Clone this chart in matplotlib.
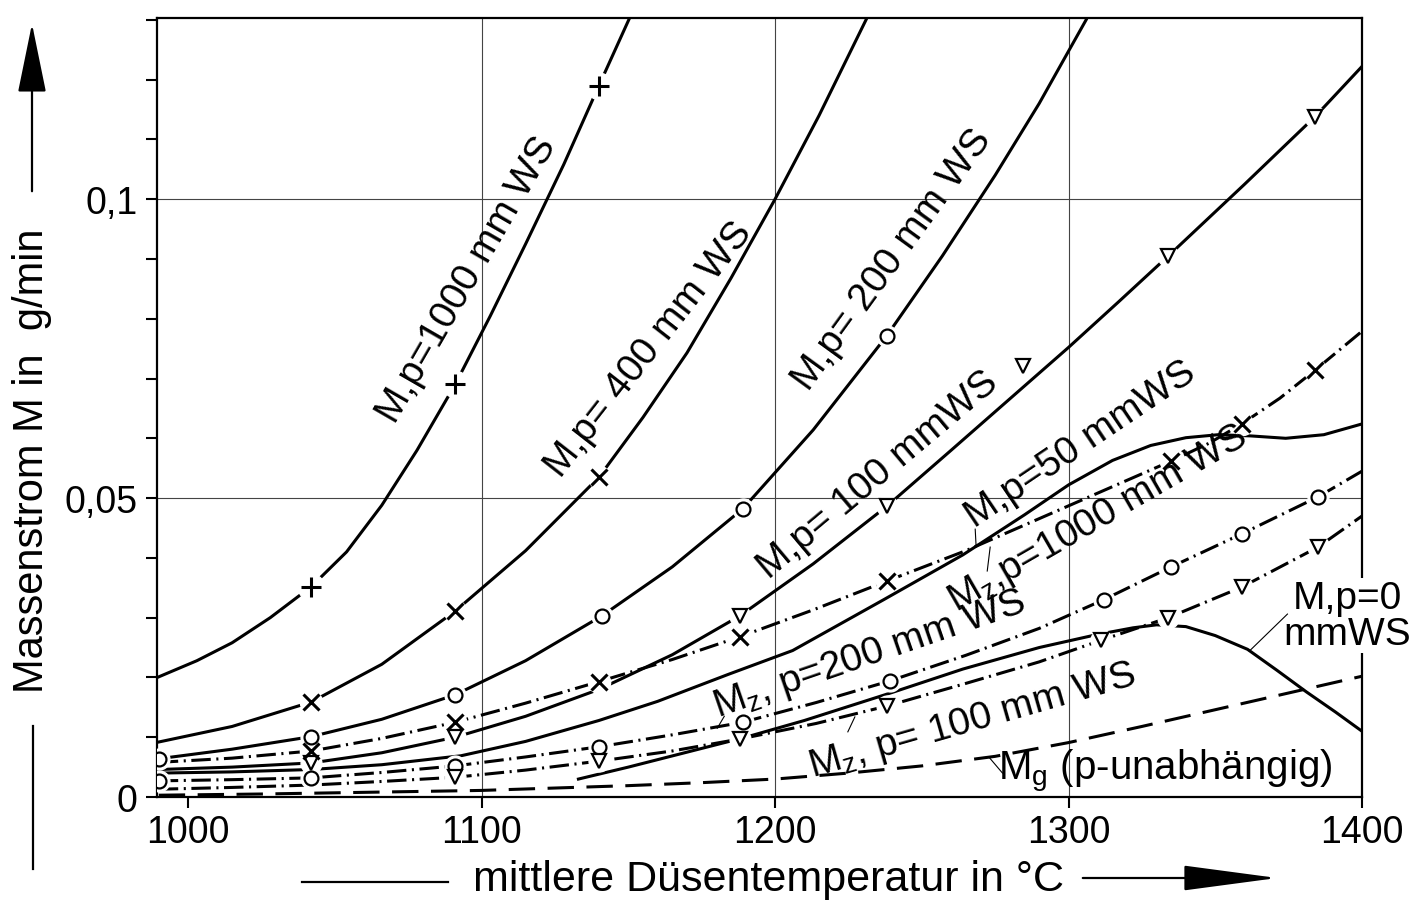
import matplotlib
matplotlib.use("Agg")
import matplotlib.pyplot as plt
from matplotlib.lines import Line2D
from matplotlib.patches import FancyArrowPatch
from matplotlib.ticker import FixedLocator, MultipleLocator

plt.rcParams["font.family"] = ["Liberation Sans", "DejaVu Sans"]
plt.rcParams["mathtext.fontset"] = "custom"
plt.rcParams["mathtext.rm"] = "Liberation Sans"
plt.rcParams["lines.scale_dashes"] = False

# temperature (degC) / mass flow (g/min)
T_M1000 = [990, 1003, 1015, 1028, 1042, 1054, 1066, 1078, 1091, 1103, 1115, 1128, 1140, 1152]
M_M1000 = [0.0201, 0.0228, 0.0258, 0.0300, 0.0352, 0.0410, 0.0488, 0.0580, 0.0690, 0.0805,
           0.0925, 0.1058, 0.1190, 0.1320]
MK_M1000 = [1042, 1091, 1140]

T_M400 = [990, 1015, 1042, 1066, 1091, 1115, 1140, 1155, 1170, 1185, 1200, 1215, 1232]
M_M400 = [0.0092, 0.0118, 0.0159, 0.0222, 0.0311, 0.0412, 0.0535, 0.0635, 0.0743, 0.0868,
          0.1000, 0.1140, 0.1310]
MK_M400 = [1042, 1091, 1140]

T_M200 = [990, 1015, 1042, 1066, 1091, 1115, 1141, 1165, 1189, 1213, 1238, 1257, 1275, 1290,
          1306]
M_M200 = [0.0064, 0.0080, 0.0101, 0.0130, 0.0171, 0.0228, 0.0303, 0.0385, 0.0482, 0.0614,
          0.0771, 0.0905, 0.1040, 0.1160, 0.1300]
MK_M200 = [990, 1042, 1091, 1141, 1189, 1238]

T_M100 = [990, 1015, 1042, 1066, 1091, 1115, 1140, 1165, 1188, 1213, 1238, 1260, 1280, 1300,
          1317, 1334, 1360, 1384, 1400]
M_M100 = [0.0046, 0.0050, 0.0057, 0.0074, 0.0100, 0.0135, 0.0180, 0.0238, 0.0303, 0.0390,
          0.0486, 0.0580, 0.0666, 0.0752, 0.0828, 0.0905, 0.1025, 0.1138, 0.1222]
MK_M100 = [1042, 1091, 1188, 1238, 1334, 1384]

T_M50 = [990, 1015, 1042, 1066, 1093, 1115, 1140, 1160, 1184, 1206, 1237, 1264, 1285, 1300,
         1315, 1328, 1340, 1351, 1362, 1374, 1387, 1400]
M_M50 = [0.0040, 0.0042, 0.0046, 0.0054, 0.0069, 0.0093, 0.0128, 0.0160, 0.0205, 0.0245,
         0.0330, 0.0405, 0.0472, 0.0522, 0.0563, 0.0588, 0.0601, 0.0606, 0.0604, 0.0600,
         0.0606, 0.0624]

T_M0 = [1133, 1150, 1170, 1190, 1210, 1240, 1264, 1290, 1310, 1322, 1330, 1340, 1350, 1361,
        1371, 1381, 1391, 1400]
M_M0 = [0.0030, 0.0050, 0.0075, 0.0100, 0.0128, 0.0175, 0.0214, 0.0250, 0.0272, 0.0283,
        0.0288, 0.0285, 0.0270, 0.0247, 0.0212, 0.0176, 0.0142, 0.0110]

T_MZ1000 = [990, 1015, 1042, 1066, 1091, 1115, 1140, 1165, 1188, 1213, 1238, 1265, 1300, 1335,
            1348, 1359, 1372, 1384, 1400]
M_MZ1000 = [0.0058, 0.0065, 0.0077, 0.0098, 0.0125, 0.0157, 0.0193, 0.0230, 0.0268, 0.0313,
            0.0361, 0.0412, 0.0487, 0.0562, 0.0592, 0.0624, 0.0667, 0.0714, 0.0779]
MK_MZ1000 = [1042, 1091, 1140, 1188, 1238, 1335, 1359, 1384]

T_MZ200 = [990, 1015, 1042, 1066, 1091, 1115, 1140, 1165, 1189, 1214, 1239, 1265, 1290, 1312,
           1335, 1359, 1385, 1400]
M_MZ200 = [0.0027, 0.0029, 0.0032, 0.0041, 0.0052, 0.0067, 0.0084, 0.0104, 0.0125, 0.0158,
           0.0194, 0.0237, 0.0282, 0.0330, 0.0385, 0.0440, 0.0502, 0.0545]
MK_MZ200 = [990, 1042, 1091, 1140, 1189, 1239, 1312, 1335, 1359, 1385]

T_MZ100 = [990, 1015, 1042, 1066, 1091, 1115, 1140, 1165, 1188, 1214, 1238, 1265, 1290, 1311,
           1334, 1359, 1385, 1400]
M_MZ100 = [0.0013, 0.0016, 0.0020, 0.0026, 0.0033, 0.0045, 0.0060, 0.0077, 0.0097, 0.0123,
           0.0152, 0.0190, 0.0226, 0.0262, 0.0300, 0.0351, 0.0418, 0.0470]
MK_MZ100 = [1091, 1140, 1188, 1238, 1311, 1334, 1359, 1385]

T_MG = [990, 1025, 1050, 1075, 1100, 1125, 1150, 1175, 1200, 1225, 1250, 1275, 1300, 1325,
        1350, 1375, 1400]
M_MG = [0.0003, 0.0005, 0.0007, 0.0009, 0.0011, 0.0015, 0.0019, 0.0024, 0.0030, 0.0040,
        0.0052, 0.0068, 0.0091, 0.0118, 0.0146, 0.0174, 0.0202]

X_TICKS = [1000, 1100, 1200, 1300, 1400]
X_TICK_LABELS = ["1000", "1100", "1200", "1300", "1400"]
Y_TICKS = [0, 0.05, 0.1]
Y_TICK_LABELS = ["0", "0,05", "0,1"]

# curve labels: text, x, y, rotation
LABELS = [
    ("M,p=1000 mm WS", 1095, 0.0866, 60),
    ("M,p= 400 mm WS", 1157, 0.0749, 52),
    ("M,p= 200 mm WS", 1240, 0.0900, 54),
    ("M,p= 100 mmWS", 1235, 0.0540, 40),
    ("M,p=50 mmWS", 1304, 0.0590, 34),
    (r"M$_{\mathregular{z}}$,p=1000 mm WS", 1310, 0.0465, 30),
    (r"M$_{\mathregular{z}}$, p=200 mm WS", 1232, 0.0239, 19),
    (r"M$_{\mathregular{z}}$, p= 100 mm WS", 1267, 0.0127, 16),
]

# thin leader lines from label to curve
LEADERS = [
    ((1268.2, 1268.5), (0.0448, 0.0420)),
    ((1273.3, 1272.3), (0.0418, 0.0378)),
    ((1180.3, 1182.7), (0.0115, 0.0135)),
    ((1224.8, 1227.2), (0.0109, 0.0134)),
    ((1273.0, 1277.5), (0.0066, 0.0040)),
    ((1374.6, 1361.6), (0.0306, 0.0244)),
]

BLACK = "black"
DASHDOT = (0, (14, 4, 1.5, 4))
DASHED = (0, (19, 9))

fig = plt.figure(figsize=(14.12, 9.04), dpi=100)
ax = fig.add_axes([157 / 1412, 1 - 798 / 904, 1205 / 1412, 779 / 904])


def draw_curve(x, y, ls, marks=None, marker=None, ms=10, mew=1.6):
    ax.plot(x, y, color=BLACK, lw=2.2, ls=ls, dash_capstyle="butt",
            solid_joinstyle="round", zorder=3)
    if not marks:
        return
    idx = [x.index(m) for m in marks]
    mx = [x[i] for i in idx]
    my = [y[i] for i in idx]
    ax.plot(mx, my, ls="none", marker="o", ms=ms + 5, mfc="white", mec="white", zorder=4)
    ax.plot(mx, my, ls="none", marker=marker, ms=ms, mfc="white", mec=BLACK, mew=mew, zorder=5)


draw_curve(T_M1000, M_M1000, "-", MK_M1000, "+", ms=14, mew=2.2)
draw_curve(T_M400, M_M400, "-", MK_M400, "x", ms=11, mew=2.2)
draw_curve(T_M200, M_M200, "-", MK_M200, "o", ms=10)
draw_curve(T_M100, M_M100, "-", MK_M100, "v", ms=10)
draw_curve(T_M50, M_M50, "-")
draw_curve(T_M0, M_M0, "-")
draw_curve(T_MZ1000, M_MZ1000, DASHDOT, MK_MZ1000, "x", ms=11, mew=2.2)
draw_curve(T_MZ200, M_MZ200, DASHDOT, MK_MZ200, "o", ms=10)
draw_curve(T_MZ100, M_MZ100, DASHDOT, MK_MZ100, "v", ms=10)
draw_curve(T_MG, M_MG, DASHED)

ax.set_xlim(989.4, 1400)
ax.set_ylim(0, 0.1303)

for gx in X_TICKS[1:-1]:
    ax.axvline(gx, color="#444444", lw=0.8, zorder=1)
for gy in Y_TICKS[1:]:
    ax.axhline(gy, color="#444444", lw=0.8, zorder=1)

ax.xaxis.set_major_locator(FixedLocator(X_TICKS))
ax.set_xticklabels(X_TICK_LABELS)
ax.yaxis.set_major_locator(FixedLocator(Y_TICKS))
ax.set_yticklabels(Y_TICK_LABELS)
ax.yaxis.set_minor_locator(MultipleLocator(0.01))
ax.tick_params(axis="both", which="both", direction="out", length=8, width=1.5,
               labelsize=27, color=BLACK)
ax.tick_params(axis="x", pad=4)
ax.tick_params(axis="y", pad=6)
for spine in ax.spines.values():
    spine.set_linewidth(1.6)

for text, x, y, rot in LABELS:
    ax.text(x, y, text, rotation=rot, rotation_mode="anchor", ha="center", va="center",
            fontsize=28, zorder=6)

# loose legend symbol next to the M,p=100 label
ax.plot([1284.6], [0.0721], ls="none", marker="v", ms=10, mfc="white", mec=BLACK, mew=1.6,
        zorder=6)

ax.text(1333, 0.0044, r"M$_{\mathregular{g}}$ (p-unabhängig)", ha="center", va="center",
        fontsize=29, zorder=6)
ax.text(1395, 0.0303, "M,p=0\nmmWS", ha="center", va="center", fontsize=28,
        linespacing=1.0, zorder=6, clip_on=False,
        bbox=dict(facecolor="white", edgecolor="none", pad=1))

for lx, ly in LEADERS:
    ax.plot(lx, ly, color=BLACK, lw=0.8, zorder=6)

# axis titles with the arrows of the original
fig.text(32 / 1412, 1 - 461 / 904, "Massenstrom M in  g/min", rotation=90,
         ha="center", va="center", fontsize=30)
fig.text(768 / 1412, 1 - 880 / 904, "mittlere Düsentemperatur in °C",
         ha="center", va="center", fontsize=31)

fig.add_artist(Line2D([33 / 1412, 33 / 1412], [1 - 727 / 904, 1 - 870 / 904],
                      color=BLACK, lw=1.6))
fig.add_artist(Line2D([302 / 1412, 448 / 1412], [1 - 883 / 904, 1 - 883 / 904],
                      color=BLACK, lw=1.6))
fig.add_artist(FancyArrowPatch(
    (32 / 1412, 1 - 195 / 904), (32 / 1412, 1 - 22 / 904), transform=fig.transFigure,
    arrowstyle="-|>,head_length=2.2,head_width=0.45", mutation_scale=20,
    color=BLACK, lw=1.6))
fig.add_artist(FancyArrowPatch(
    (1080 / 1412, 1 - 879 / 904), (1280 / 1412, 1 - 879 / 904), transform=fig.transFigure,
    arrowstyle="-|>,head_length=3.0,head_width=0.4", mutation_scale=20,
    color=BLACK, lw=1.6))

fig.savefig("out.png", dpi=100, facecolor="white")
